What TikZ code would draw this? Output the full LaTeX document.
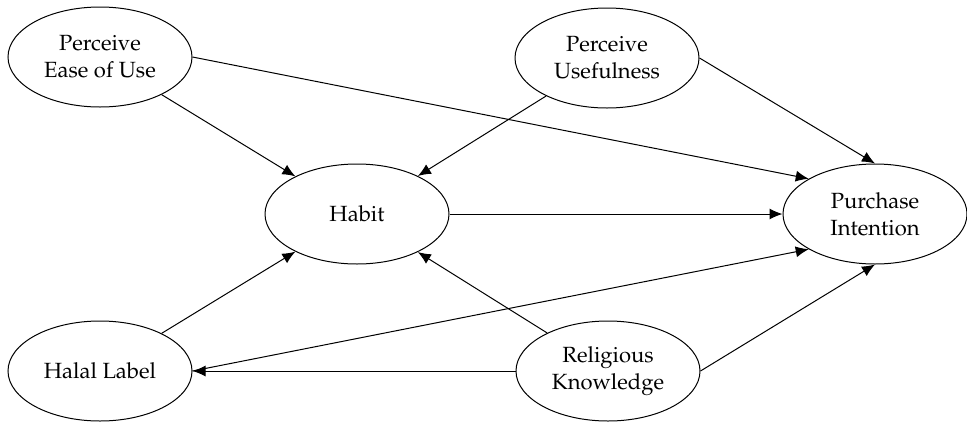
\documentclass[tikz,border=0pt]{standalone}
\usepackage[T1]{fontenc}
\renewcommand{\rmdefault}{ppl}
\usetikzlibrary{shapes.geometric,arrows.meta}
\tikzset{
  construct/.style={draw=black, line width=1pt, ellipse, minimum width=184pt, minimum height=100pt, inner sep=0pt, align=center, font=\fontsize{22}{27}\selectfont},
  link/.style={draw=black, line width=1pt, -{Latex[length=13pt,width=11pt]}}
}
\begin{document}
\begin{tikzpicture}[x=1pt,y=-1pt]
\useasboundingbox (0,0) rectangle (967,421);
\node[construct] (peu) at (100,57) {Perceive\\Ease of Use};
\node[construct] (pu) at (607,58) {Perceive\\Usefulness};
\node[construct] (hab) at (357,214) {Habit};
\node[construct] (pi) at (875,214) {Purchase\\Intention};
\node[construct] (hl) at (100,371) {Halal Label};
\node[construct] (rk) at (608,371) {Religious\\Knowledge};

\draw[link] (peu) -- (hab);
\draw[link] (pu) -- (hab);
\draw[link] (hl) -- (hab);
\draw[link] (rk) -- (hab);
\draw[link] (hab) -- (pi);
\draw[link] (rk) -- (hl);
\draw[link] (peu.east) -- (pi.152);
\draw[link] (pu.east) -- (pi.north);
\draw[link] (hl.east) -- (pi.208);
\draw[link] (rk.east) -- (pi.south);
\end{tikzpicture}
\end{document}
